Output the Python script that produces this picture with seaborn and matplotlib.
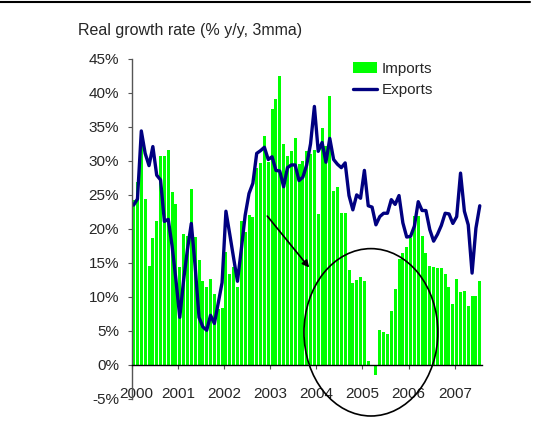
import numpy as np
import pandas as pd
import matplotlib
matplotlib.use("Agg")
import matplotlib.pyplot as plt
import matplotlib.transforms as mtransforms
from matplotlib.patches import Ellipse
from matplotlib.lines import Line2D
import seaborn as sns

# Monthly data, Jan 2000 - Jul 2007 (real growth, % y/y, 3mma)
months = pd.date_range("2000-01-01", periods=91, freq="MS")
imports = [
    24.2, 26.9, 33.0, 24.4, 14.5, 18.6, 21.2, 30.7, 30.7, 31.6, 25.4, 23.6,   # 2000
    14.4, 19.3, 18.9, 25.9, 18.8, 15.5, 12.4, 11.4, 12.6, 10.5, 8.2, 8.3,     # 2001
    16.6, 13.4, 14.4, 11.4, 21.2, 19.6, 22.0, 21.7, 28.9, 29.7, 33.7, 29.8,   # 2002
    37.6, 39.1, 42.5, 32.5, 30.7, 31.5, 33.4, 29.5, 30.0, 31.4, 31.0, 31.6,   # 2003
    22.2, 34.9, 32.2, 39.5, 25.5, 26.1, 22.4, 22.3, 13.9, 12.1, 12.5, 12.9,   # 2004
    12.3, 0.6, 0.0, -1.5, 5.2, 4.9, 4.5, 7.9, 11.2, 15.6, 16.4, 17.4,         # 2005
    18.7, 21.9, 21.9, 19.0, 16.4, 14.6, 14.4, 14.2, 14.3, 13.3, 11.4, 8.9,    # 2006
    12.6, 10.7, 10.9, 8.6, 10.2, 10.2, 12.4,                                  # 2007
]
exports = [
    23.5, 24.4, 34.4, 31.1, 29.3, 32.1, 27.9, 27.2, 21.1, 21.4, 17.5, 12.5,
    7.0, 12.5, 17.0, 20.8, 14.5, 7.0, 5.6, 5.1, 7.3, 6.1, 9.1, 12.1,
    22.6, 19.2, 15.7, 12.3, 17.0, 22.0, 25.2, 26.7, 31.1, 31.5, 32.0, 30.2,
    30.6, 28.6, 28.5, 26.2, 29.0, 29.4, 29.4, 27.1, 27.6, 29.4, 32.5, 38.0,
    31.4, 32.7, 29.8, 33.3, 30.2, 29.5, 29.0, 29.7, 24.9, 22.8, 25.0, 24.5,
    28.6, 23.4, 23.2, 20.6, 21.8, 22.3, 22.3, 24.3, 23.6, 24.9, 20.9, 18.8,
    18.9, 20.4, 24.0, 22.7, 22.7, 19.9, 18.2, 19.2, 20.5, 22.3, 22.2, 20.8,
    21.8, 28.2, 22.6, 20.6, 13.5, 20.1, 23.4,
]
year_labels = ["2000", "2001", "2002", "2003", "2004", "2005", "2006", "2007"]

df = pd.DataFrame({"month": months, "Imports": imports, "Exports": exports})
df["pos"] = np.arange(len(df))

sns.set_style("white")
plt.rcParams["font.family"] = ["Liberation Sans", "DejaVu Sans"]
plt.rcParams["font.size"] = 11

fig = plt.figure(figsize=(5.59, 4.28), dpi=100)
ax = fig.add_axes([0.2356, 0.0678, 0.6261, 0.7948])

sns.barplot(data=df, x="pos", y="Imports", color="#00ff00", saturation=1,
            width=0.78, linewidth=0, edgecolor="none", ax=ax, label="Imports")
sns.lineplot(data=df, x="pos", y="Exports", color="#000080", lw=2.4,
             ax=ax, label="Exports")

ax.set_xlim(-0.5, len(df) - 0.5)
ax.set_ylim(-5, 45)
ax.set_yticks(np.arange(-5, 46, 5))
ax.set_yticklabels([f"{v}%" for v in range(-5, 46, 5)])
ax.set_xticks(np.arange(len(year_labels)) * 12 - 0.5)
ax.set_xticklabels(year_labels)
ax.set_xlabel("")
ax.set_ylabel("")

for s in ["top", "right"]:
    ax.spines[s].set_visible(False)
ax.spines["bottom"].set_position(("data", 0))
ax.spines["bottom"].set_color("black")
ax.spines["left"].set_color("#555555")
ax.spines["bottom"].set_linewidth(1.0)
ax.spines["left"].set_linewidth(1.0)
ax.tick_params(axis="x", direction="out", length=3, pad=13, color="#555555")
ax.tick_params(axis="y", direction="out", length=3, pad=6, color="#555555")
ax.tick_params(bottom=True, left=True)

# nudge the first year label clear of the "-5%" label
first = ax.get_xticklabels()[0]
first.set_transform(first.get_transform() +
                    mtransforms.ScaledTranslation(5 / 100, 0, fig.dpi_scale_trans))

# annotation: arrow and ellipse
ax.annotate("", xy=(46.1, 14.0), xytext=(34.3, 22.2),
            arrowprops=dict(arrowstyle="-|>", color="black", lw=1.2,
                            mutation_scale=10))
ax.add_patch(Ellipse((61.7, 4.8), 34.8, 24.6, fill=False, edgecolor="black",
                     lw=1.2, clip_on=False))

handles, labels = ax.get_legend_handles_labels()
order = [labels.index("Imports"), labels.index("Exports")]
ax.legend([handles[i] for i in order], [labels[i] for i in order],
          loc="upper left", bbox_to_anchor=(0.615, 1.01), frameon=False,
          handlelength=1.6, handleheight=0.7, labelspacing=0.5,
          handletextpad=0.3, borderaxespad=0)

fig.text(78 / 559, 1 - 30 / 428, "Real growth rate (% y/y, 3mma)",
         va="center", ha="left", fontsize=11.5)
fig.add_artist(Line2D([0, 530 / 559], [1 - 2 / 428, 1 - 2 / 428],
                      color="black", lw=1.5))

fig.savefig("out.png", dpi=100)
